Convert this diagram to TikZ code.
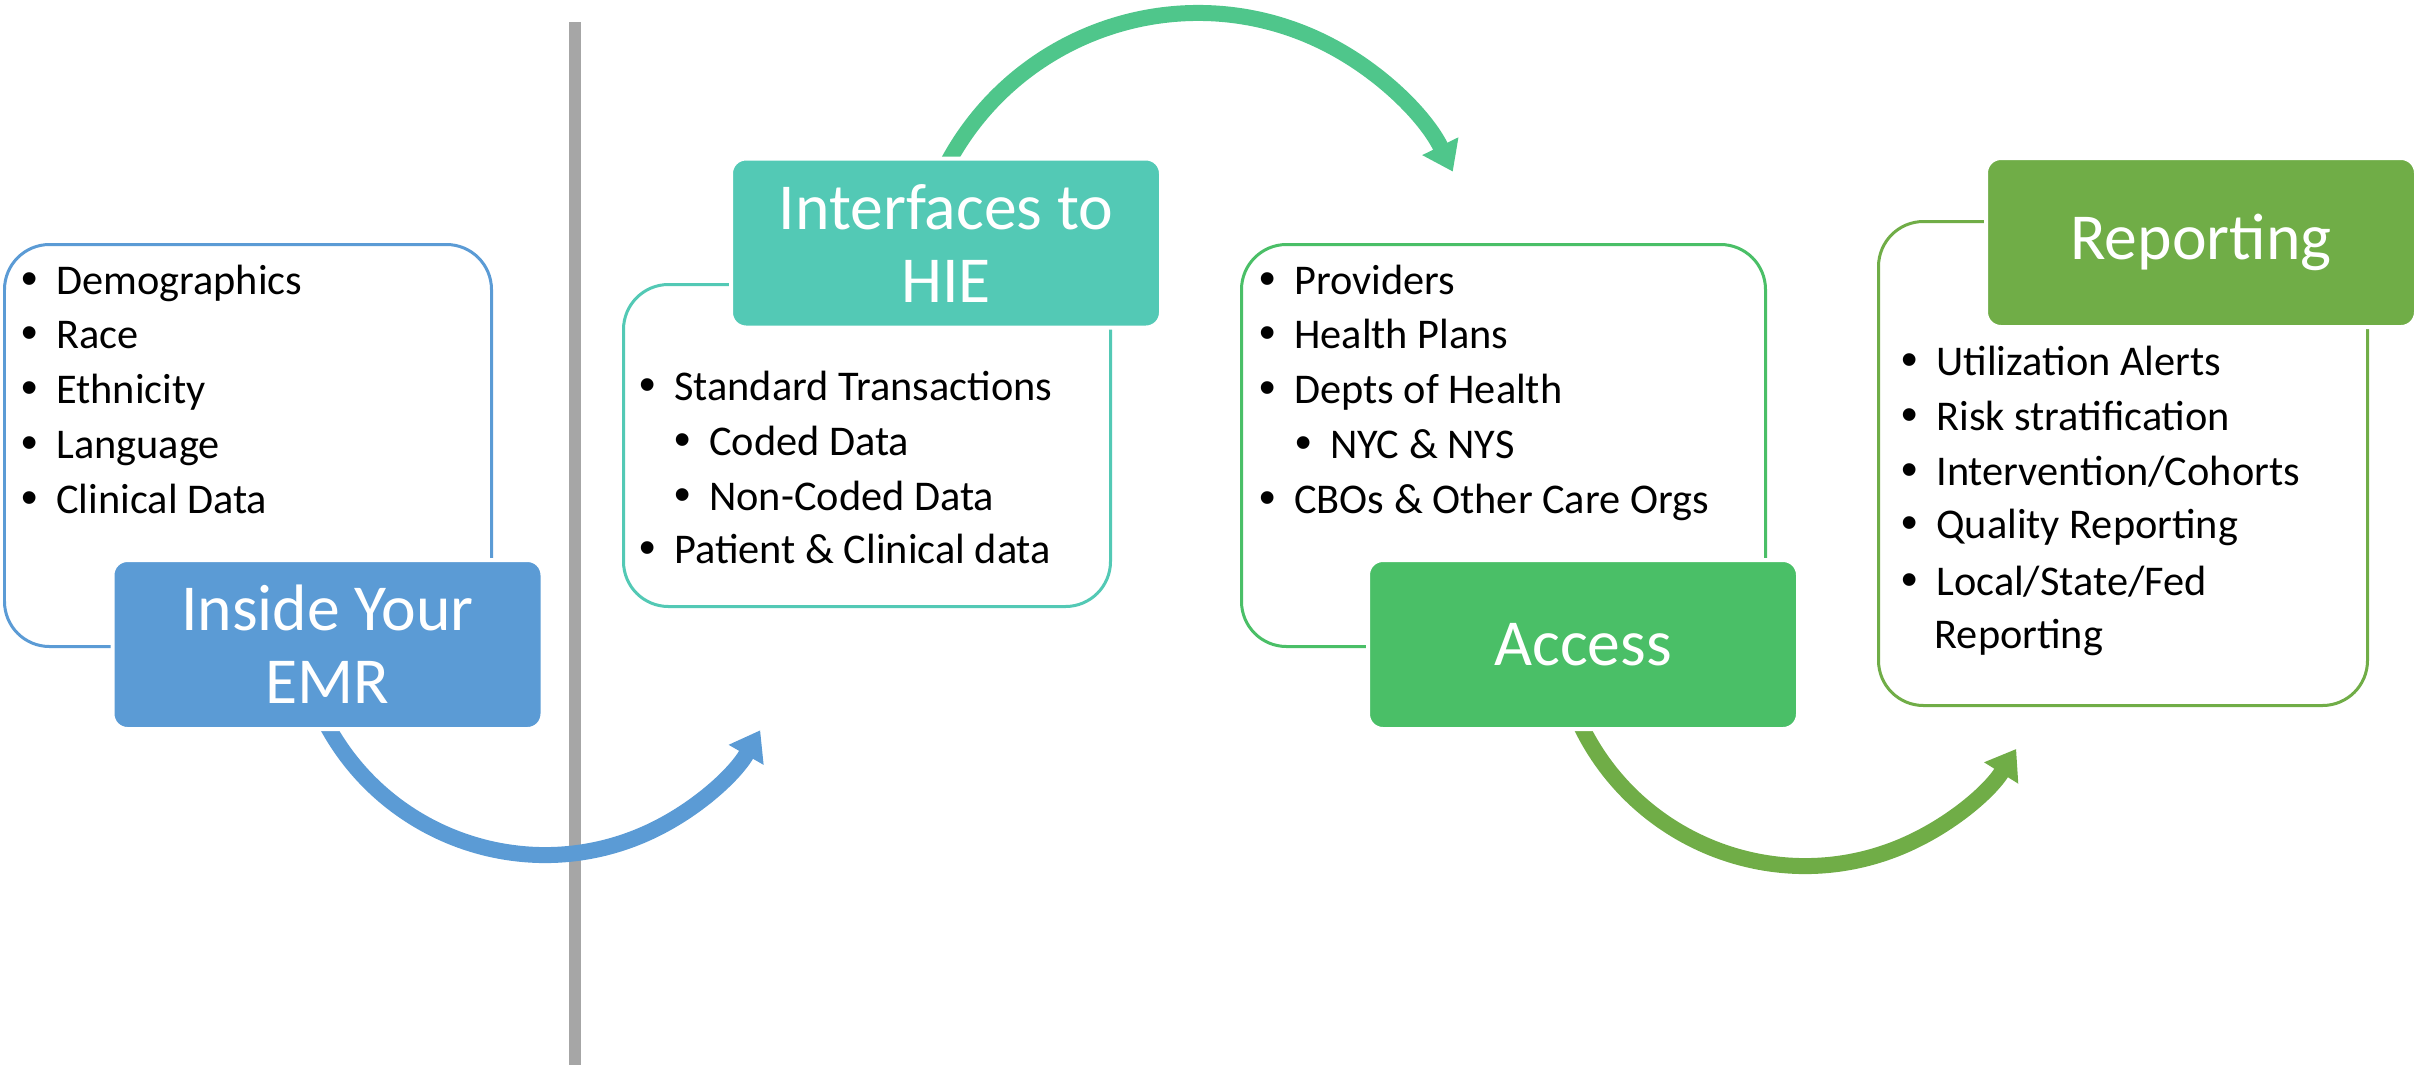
\documentclass[tikz,border=0pt]{standalone}
\usepackage{fontspec}
\setmainfont{Carlito}
\newfontfamily\bulfont{Liberation Sans}
\usetikzlibrary{arrows.meta}
\definecolor{cBlue}{HTML}{5B9BD5}
\definecolor{cTeal}{HTML}{53C9B5}
\definecolor{cArc}{HTML}{4FC68B}
\definecolor{cGreen}{HTML}{4ABF67}
\definecolor{cOlive}{HTML}{70AD47}
\definecolor{cGray}{HTML}{A6A6A6}
\newcommand{\bl}{\makebox[0pt][c]{\bulfont\fontsize{14pt}{14pt}\selectfont •}\hspace{8pt}}
\begin{document}
\begin{tikzpicture}[x=0.3pt,y=0.3pt,
  outbox/.style={draw=#1, line width=0.9pt, rounded corners=13.5pt, fill=white, inner sep=0pt, anchor=north west},
  fillbox/.style={fill=#1, draw=white, line width=1.2pt, rounded corners=4.5pt, text=white,
    font=\fontsize{19.7pt}{21.9pt}\selectfont, align=center, inner sep=0pt,
    minimum width=129pt, minimum height=50.7pt},
  itm/.style={anchor=base west, inner sep=0pt, font=\fontsize{12.7pt}{14pt}\selectfont},
  flow/.style={line width=4.8pt, -{Triangle[length=8.5pt,width=11.5pt]}},
  divider/.style={draw=cGray, line width=3.6pt},
]
\useasboundingbox (0,0) rectangle (2417,-1067);

% divider
\coordinate (dtop) at (575,-22);
\coordinate (dbot) at (575,-1065);
\draw[divider] (dtop) -- (dbot);

% arc centres
\coordinate (ca) at (545,-607);
\coordinate (cb) at (1198,-297);
\coordinate (cc) at (1805,-617);
\coordinate (sa) at ([shift={(205:248)}]ca);
\coordinate (sb) at ([shift={(153:284)}]cb);
\coordinate (sc) at ([shift={(203:249)}]cc);

\draw[flow, cBlue] (sa) arc[start angle=205, end angle=330.2, radius=248];
\draw[flow, cArc] (sb) arc[start angle=153, end angle=26.2, radius=284];
\draw[flow, cOlive] (sc) arc[start angle=203, end angle=328, radius=249];

% outline boxes
\node[outbox=cBlue, minimum width=146.1pt, minimum height=120.6pt] (o1) at (3,-243) {};
\node[outbox=cTeal, minimum width=146.1pt, minimum height=96.6pt] (o2) at (622,-283) {};
\node[outbox=cGreen, minimum width=157.2pt, minimum height=120.6pt] (o3) at (1240,-243) {};
\node[outbox=cOlive, minimum width=146.7pt, minimum height=145.2pt] (o4) at (1877,-220) {};

% filled boxes
\node[fillbox=cBlue] (f1) at (327.5,-644.5) {Inside Your\\EMR};
\node[fillbox=cTeal] (f2) at (946,-243) {Interfaces to\\HIE};
\node[fillbox=cGreen] (f3) at (1583,-644.5) {Access};
\node[fillbox=cOlive] (f4) at (2201,-242.5) {Reporting};

% box 1 items
\node[itm] (a1) at (29,-294) {\bl Demographics};
\node[itm] (a2) at (29,-348) {\bl Race};
\node[itm] (a3) at (29,-403) {\bl Ethnicity};
\node[itm] (a4) at (29,-458) {\bl Language};
\node[itm] (a5) at (29,-513) {\bl Clinical Data};

% box 2 items
\node[itm] (b1) at (647,-400) {\bl Standard Transactions};
\node[itm] (b2) at (682,-455) {\bl Coded Data};
\node[itm] (b3) at (682,-510) {\bl Non-Coded Data};
\node[itm] (b4) at (647,-563) {\bl Patient \& Clinical data};

% box 3 items
\node[itm] (c1) at (1267,-294) {\bl Providers};
\node[itm] (c2) at (1267,-348) {\bl Health Plans};
\node[itm] (c3) at (1267,-403) {\bl Depts of Health};
\node[itm] (c4) at (1303,-458) {\bl NYC \& NYS};
\node[itm] (c5) at (1267,-513) {\bl CBOs \& Other Care Orgs};

% box 4 items
\node[itm] (d1) at (1909,-375) {\bl Utilization Alerts};
\node[itm] (d2) at (1909,-430) {\bl Risk stratification};
\node[itm] (d3) at (1909,-485) {\bl Intervention/Cohorts};
\node[itm] (d4) at (1909,-538) {\bl Quality Reporting};
\node[itm] (d5) at (1909,-595) {\bl Local/State/Fed};
\node[itm] (d6) at (1934,-648) {Reporting};
\end{tikzpicture}
\end{document}
